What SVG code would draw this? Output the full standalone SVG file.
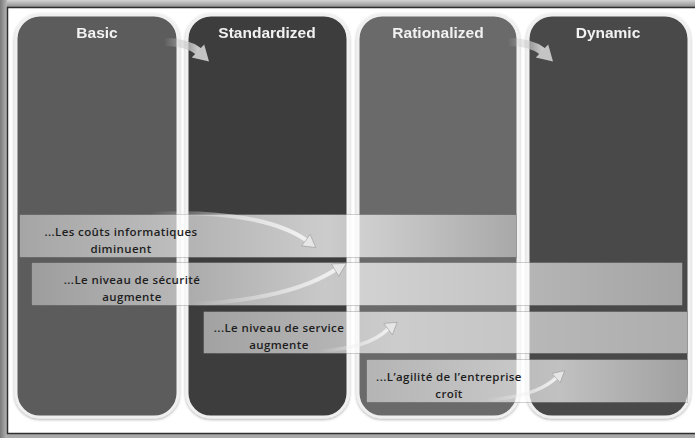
<svg xmlns="http://www.w3.org/2000/svg" width="695" height="438" viewBox="0 0 695 438">
<style>
.title{font-family:"Liberation Sans",Arial,sans-serif;font-weight:bold;font-size:15.5px;fill:#f2f2f2;text-anchor:middle}
.lbl{font-family:"Open Sans","DejaVu Sans",sans-serif;font-weight:600;font-size:11.5px;fill:#1e1e1e;text-anchor:middle;letter-spacing:0.4px}
.col{stroke:#f0f0f0;stroke-width:3}
.band{stroke:#000;stroke-opacity:0.18;stroke-width:1}
.head{fill:#e6e6e6;stroke:#9a9a9a;stroke-width:0.6}
.hhead{fill:#c4c4c4}
</style>
<defs>
<linearGradient id="topg" x1="0" y1="0" x2="0" y2="1"><stop offset="0" stop-color="#d4d4d4"/><stop offset="1" stop-color="#858585"/></linearGradient>
<linearGradient id="leftg" x1="0" y1="0" x2="1" y2="0"><stop offset="0" stop-color="#7a7a7a"/><stop offset="1" stop-color="#b5b5b5"/></linearGradient>
<linearGradient id="b1" x1="0" y1="0" x2="1" y2="0"><stop offset="0" stop-color="#fff" stop-opacity="0.45"/><stop offset="0.62" stop-color="#fff" stop-opacity="0.74"/><stop offset="1" stop-color="#fff" stop-opacity="0.42"/></linearGradient>
<linearGradient id="b2" x1="0" y1="0" x2="1" y2="0"><stop offset="0" stop-color="#fff" stop-opacity="0.4"/><stop offset="0.45" stop-color="#fff" stop-opacity="0.72"/><stop offset="1" stop-color="#fff" stop-opacity="0.5"/></linearGradient>
<linearGradient id="b3" x1="0" y1="0" x2="1" y2="0"><stop offset="0" stop-color="#fff" stop-opacity="0.52"/><stop offset="0.4" stop-color="#fff" stop-opacity="0.66"/><stop offset="1" stop-color="#fff" stop-opacity="0.55"/></linearGradient>
<linearGradient id="b4" x1="0" y1="0" x2="1" y2="0"><stop offset="0" stop-color="#fff" stop-opacity="0.5"/><stop offset="0.6" stop-color="#fff" stop-opacity="0.66"/><stop offset="1" stop-color="#fff" stop-opacity="0.48"/></linearGradient>
<linearGradient id="a1" gradientUnits="userSpaceOnUse" x1="150" y1="0" x2="300" y2="0"><stop offset="0" stop-color="#f0f0f0" stop-opacity="0"/><stop offset="1" stop-color="#f0f0f0" stop-opacity="1"/></linearGradient>
<linearGradient id="a2" gradientUnits="userSpaceOnUse" x1="190" y1="0" x2="335" y2="0"><stop offset="0" stop-color="#f0f0f0" stop-opacity="0"/><stop offset="1" stop-color="#f0f0f0" stop-opacity="1"/></linearGradient>
<linearGradient id="a3" gradientUnits="userSpaceOnUse" x1="320" y1="0" x2="388" y2="0"><stop offset="0" stop-color="#f0f0f0" stop-opacity="0"/><stop offset="1" stop-color="#f0f0f0" stop-opacity="1"/></linearGradient>
<linearGradient id="a4" gradientUnits="userSpaceOnUse" x1="485" y1="0" x2="556" y2="0"><stop offset="0" stop-color="#f0f0f0" stop-opacity="0"/><stop offset="1" stop-color="#f0f0f0" stop-opacity="1"/></linearGradient>
<linearGradient id="h1" gradientUnits="userSpaceOnUse" x1="164" y1="0" x2="198" y2="0"><stop offset="0" stop-color="#c8c8c8" stop-opacity="0"/><stop offset="1" stop-color="#c8c8c8" stop-opacity="1"/></linearGradient>
<linearGradient id="h2" gradientUnits="userSpaceOnUse" x1="508" y1="0" x2="542" y2="0"><stop offset="0" stop-color="#c8c8c8" stop-opacity="0"/><stop offset="1" stop-color="#c8c8c8" stop-opacity="1"/></linearGradient>
<filter id="sh" x="-5%" y="-5%" width="110%" height="110%"><feGaussianBlur in="SourceAlpha" stdDeviation="1.5"/><feOffset dy="1"/><feComponentTransfer><feFuncA type="linear" slope="0.35"/></feComponentTransfer><feMerge><feMergeNode/><feMergeNode in="SourceGraphic"/></feMerge></filter>
</defs>

<g id="frame">
<rect x="0" y="0" width="695" height="438" fill="#a9a9a9"/>
<rect x="0" y="0" width="695" height="8" fill="url(#topg)"/>
<rect x="0" y="0" width="7" height="438" fill="url(#leftg)"/>
<rect x="7.5" y="7.5" width="690" height="426" fill="#fff" stroke="#2e2e2e" stroke-width="1.5"/>
</g>

<g id="col-basic" filter="url(#sh)">
<rect class="col" x="16" y="15" width="162" height="402" rx="24" fill="#5b5b5b"/>
<text class="title" x="97" y="38">Basic</text>
</g>
<g id="col-standardized" filter="url(#sh)">
<rect class="col" x="187" y="15" width="161" height="402" rx="24" fill="#3d3d3d"/>
<text class="title" x="267" y="38">Standardized</text>
</g>
<g id="col-rationalized" filter="url(#sh)">
<rect class="col" x="358" y="15" width="160" height="402" rx="24" fill="#6a6a6a"/>
<text class="title" x="438" y="38">Rationalized</text>
</g>
<g id="col-dynamic" filter="url(#sh)">
<rect class="col" x="528" y="15" width="161" height="402" rx="24" fill="#4a4a4a"/>
<text class="title" x="608" y="38">Dynamic</text>
</g>

<g id="band-couts">
<rect class="band" x="19.5" y="214.5" width="497" height="43" fill="url(#b1)"/>
<text class="lbl" x="121" y="236">...Les coûts informatiques</text>
<text class="lbl" x="121" y="253">diminuent</text>
</g>
<g id="band-securite">
<rect class="band" x="31.5" y="262.5" width="651" height="43" fill="url(#b2)"/>
<text class="lbl" x="132" y="284">...Le niveau de sécurité</text>
<text class="lbl" x="132" y="301">augmente</text>
</g>
<g id="band-service">
<rect class="band" x="203.5" y="311.5" width="484" height="42" fill="url(#b3)"/>
<text class="lbl" x="279" y="332">...Le niveau de service</text>
<text class="lbl" x="279" y="349">augmente</text>
</g>
<g id="band-agilite">
<rect class="band" x="366.5" y="359.5" width="321" height="43" fill="url(#b4)"/>
<text class="lbl" x="449" y="381">...L’agilité de l’entreprise</text>
<text class="lbl" x="449" y="398">croît</text>
</g>

<g id="connectors" fill="none" stroke-linecap="round">
<path d="M164,42 C178,42 190,45 198,51" stroke="url(#h1)" stroke-width="8"/>
<polygon class="hhead" points="191.8,57.5 204.2,44.5 209,61.5"/>
<path d="M508,42 C522,42 534,45 542,51" stroke="url(#h2)" stroke-width="8"/>
<polygon class="hhead" points="535.8,57.5 548.2,44.5 553,61.5"/>
<path d="M150,214 C230,210 280,222 306,240" stroke="url(#a1)" stroke-width="4"/>
<polygon class="head" points="301.8,245.6 310.2,234.4 315.6,247.2"/>
<path d="M190,304 C265,301 310,286 335,270" stroke="url(#a2)" stroke-width="4"/>
<polygon class="head" points="338.6,276 331.4,264 346.1,263.3"/>
<path d="M320,351 C355,349 377,340 388,329" stroke="url(#a3)" stroke-width="3.5"/>
<polygon class="head" points="392.2,334.6 383.8,323.4 396.8,322.4"/>
<path d="M485,400 C522,398 544,389 556,378" stroke="url(#a4)" stroke-width="3.5"/>
<polygon class="head" points="560,382.5 552,373.5 564.3,370.7"/>
</g>
</svg>
